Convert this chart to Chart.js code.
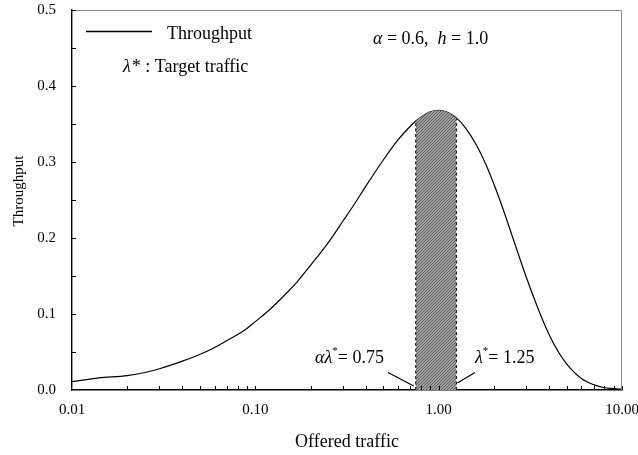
<!DOCTYPE html>
<html>
<head>
<meta charset="utf-8">
<script src="https://cdn.jsdelivr.net/npm/chart.js@4/dist/chart.umd.min.js"></script>
<style>
  html, body { margin: 0; padding: 0; background: #fff; }
  #wrap { width: 638px; height: 455px; position: relative; }
</style>
</head>
<body>
<div id="wrap"><canvas id="c"></canvas></div>
<script>
// Offered traffic (log axis) and the resulting throughput
const offeredTraffic = [0.01, 0.014, 0.02, 0.025, 0.03, 0.04, 0.05, 0.06, 0.07, 0.08, 0.09, 0.10,
  0.12, 0.15, 0.17, 0.20, 0.25, 0.30, 0.35, 0.40, 0.50, 0.60, 0.70, 0.75, 0.80, 0.90, 1.00,
  1.10, 1.20, 1.25, 1.40, 1.60, 1.80, 2.00, 2.20, 2.50, 3.00, 3.50, 4.00, 4.50, 5.00,
  6.00, 7.00, 8.00, 9.00, 10.0];
const throughput = [0.011, 0.016, 0.019, 0.023, 0.028, 0.038, 0.047, 0.056, 0.065, 0.073, 0.081, 0.090,
  0.106, 0.129, 0.143, 0.164, 0.194, 0.222, 0.246, 0.268, 0.303, 0.329, 0.347, 0.354, 0.359, 0.366, 0.368,
  0.366, 0.361, 0.358, 0.345, 0.323, 0.298, 0.271, 0.244, 0.205, 0.149, 0.106, 0.073, 0.050, 0.034,
  0.015, 0.007, 0.003, 0.002, 0.001];

// Target traffic band: alpha * lambda* .. lambda*
const alpha = 0.6;
const bandLow = 0.75;
const bandHigh = 1.25;

const xTickValues = [0.01, 0.1, 1, 10];
const yTickValues = [0.0, 0.1, 0.2, 0.3, 0.4, 0.5];

const SERIF = '"Liberation Serif", "Times New Roman", serif';

const curvePoints = offeredTraffic.map((x, i) => ({ x, y: throughput[i] }));
const bandPoints = curvePoints.filter(p => p.x >= bandLow && p.x <= bandHigh);

// Fine diagonal hatch used for the target band
function makeHatch() {
  const c = document.createElement('canvas');
  c.width = 3; c.height = 3;
  const g = c.getContext('2d');
  g.fillStyle = '#a2a2a2';
  g.fillRect(0, 0, 3, 3);
  g.fillStyle = '#5c5c5c';
  for (let i = 0; i < 3; i++) g.fillRect(i, 2 - i, 1, 1);
  return g.createPattern(c, 'repeat');
}

function drawRuns(ctx, x, y, runs) {
  ctx.textBaseline = 'alphabetic';
  ctx.textAlign = 'left';
  let cx = x;
  for (const r of runs) {
    ctx.font = r.font;
    ctx.fillText(r.text, cx, y + (r.dy || 0));
    cx += ctx.measureText(r.text).width + (r.gap || 0);
  }
}

const decorations = {
  id: 'decorations',
  afterDatasetsDraw(chart) {
    const ctx = chart.ctx;
    const xs = chart.scales.x, ys = chart.scales.y;
    const a = chart.chartArea;
    ctx.save();

    // dashed edges of the band
    ctx.strokeStyle = '#222';
    ctx.lineWidth = 1.3;
    ctx.setLineDash([3, 2.5]);
    [bandPoints[0], bandPoints[bandPoints.length - 1]].forEach(p => {
      const px = xs.getPixelForValue(p.x);
      ctx.beginPath();
      ctx.moveTo(px, ys.getPixelForValue(0));
      ctx.lineTo(px, ys.getPixelForValue(p.y) + 1);
      ctx.stroke();
    });
    ctx.setLineDash([]);

    // frame: grey top/right
    ctx.strokeStyle = '#8a8a8a';
    ctx.lineWidth = 1;
    ctx.beginPath();
    ctx.moveTo(a.left, a.top + 0.5);
    ctx.lineTo(a.right - 0.5, a.top + 0.5);
    ctx.lineTo(a.right - 0.5, a.bottom);
    ctx.stroke();

    // inward tick marks
    ctx.strokeStyle = '#000';
    ctx.lineWidth = 1;
    ctx.beginPath();
    for (let v = 0.05; v < 0.5; v += 0.05) {
      const py = Math.round(ys.getPixelForValue(v)) + 0.5;
      ctx.moveTo(a.left, py);
      ctx.lineTo(a.left + 4, py);
    }
    for (let d = 0.01; d < 10; d *= 10) {
      for (let k = 1; k <= 10; k++) {
        const v = d * k;
        if (v <= 0.01 + 1e-9 || v > 10 + 1e-9) continue;
        const px = Math.round(xs.getPixelForValue(v)) + 0.5;
        ctx.moveTo(px, a.bottom);
        ctx.lineTo(px, a.bottom - 4);
      }
    }
    ctx.stroke();

    // y-axis title, set slightly above the axis centre
    ctx.fillStyle = '#000';
    ctx.save();
    ctx.translate(19, 191);
    ctx.rotate(-Math.PI / 2);
    ctx.font = '15px ' + SERIF;
    ctx.textAlign = 'center';
    ctx.textBaseline = 'middle';
    ctx.fillText('Throughput', 0, 0);
    ctx.restore();

    // legend entry
    ctx.strokeStyle = '#000';
    ctx.lineWidth = 1.3;
    ctx.beginPath();
    ctx.moveTo(86, 31.5);
    ctx.lineTo(152, 31.5);
    ctx.stroke();

    const R = '18px ' + SERIF, I = 'italic 18px ' + SERIF, S = '11px ' + SERIF;
    drawRuns(ctx, 167, 39, [{ text: 'Throughput', font: R }]);
    drawRuns(ctx, 123, 72, [
      { text: 'λ', font: I, gap: 1 },
      { text: '*', font: R },
      { text: ' : Target traffic', font: R }
    ]);
    drawRuns(ctx, 373, 44, [
      { text: 'α', font: I },
      { text: ' = ' + alpha.toFixed(1) + ',  ', font: R },
      { text: 'h', font: I },
      { text: ' = 1.0', font: R }
    ]);

    // band labels with leader lines
    drawRuns(ctx, 315, 363, [
      { text: 'αλ', font: I },
      { text: '*', font: S, dy: -9 },
      { text: '= ' + bandLow.toFixed(2), font: R }
    ]);
    drawRuns(ctx, 475, 363, [
      { text: 'λ', font: I },
      { text: '*', font: S, dy: -9 },
      { text: '= ' + bandHigh.toFixed(2), font: R }
    ]);

    const lx = xs.getPixelForValue(bandLow), hx = xs.getPixelForValue(bandHigh);
    ctx.lineWidth = 1.2;
    ctx.beginPath();
    ctx.moveTo(388, 372.5);
    ctx.lineTo(lx - 2, 386);
    ctx.moveTo(475, 372.5);
    ctx.lineTo(hx + 1, 383);
    ctx.stroke();

    ctx.restore();
  }
};

new Chart(document.getElementById('c'), {
  type: 'line',
  data: {
    datasets: [
      {
        label: 'Target traffic',
        data: bandPoints,
        fill: 'origin',
        backgroundColor: makeHatch(),
        borderWidth: 0,
        pointRadius: 0,
        cubicInterpolationMode: 'monotone'
      },
      {
        label: 'Throughput',
        data: curvePoints,
        fill: false,
        borderColor: '#000',
        borderWidth: 1.2,
        pointRadius: 0,
        cubicInterpolationMode: 'monotone'
      }
    ]
  },
  options: {
    responsive: true,
    maintainAspectRatio: false,
    animation: false,
    events: [],
    layout: { padding: { top: 10, right: 16, left: 0, bottom: 0 } },
    plugins: { legend: { display: false }, tooltip: { enabled: false } },
    scales: {
      x: {
        type: 'logarithmic',
        min: 0.01,
        max: 10,
        afterBuildTicks: s => { s.ticks = xTickValues.map(v => ({ value: v })); },
        afterFit: s => { s.height = 65; s.paddingLeft = 0; s.paddingRight = 0; },
        grid: { display: false, drawTicks: false },
        border: { display: true, color: '#000', width: 1.4 },
        ticks: {
          padding: 11,
          color: '#000',
          maxRotation: 0,
          autoSkip: false,
          font: { family: SERIF, size: 15 },
          callback: v => Number(v).toFixed(2)
        },
        title: {
          display: true,
          text: 'Offered traffic',
          color: '#000',
          font: { family: SERIF, size: 18 },
          padding: { top: 0, bottom: 2 }
        }
      },
      y: {
        min: 0,
        max: 0.5,
        afterBuildTicks: s => { s.ticks = yTickValues.map(v => ({ value: v })); },
        afterFit: s => { s.width = 72; s.paddingTop = 0; s.paddingBottom = 0; },
        grid: { display: false, drawTicks: false },
        border: { display: true, color: '#000', width: 1.4 },
        ticks: {
          padding: 16,
          color: '#000',
          font: { family: SERIF, size: 15 },
          callback: v => Number(v).toFixed(1)
        },
        title: { display: false }
      }
    }
  },
  plugins: [decorations]
});
</script>
</body>
</html>
